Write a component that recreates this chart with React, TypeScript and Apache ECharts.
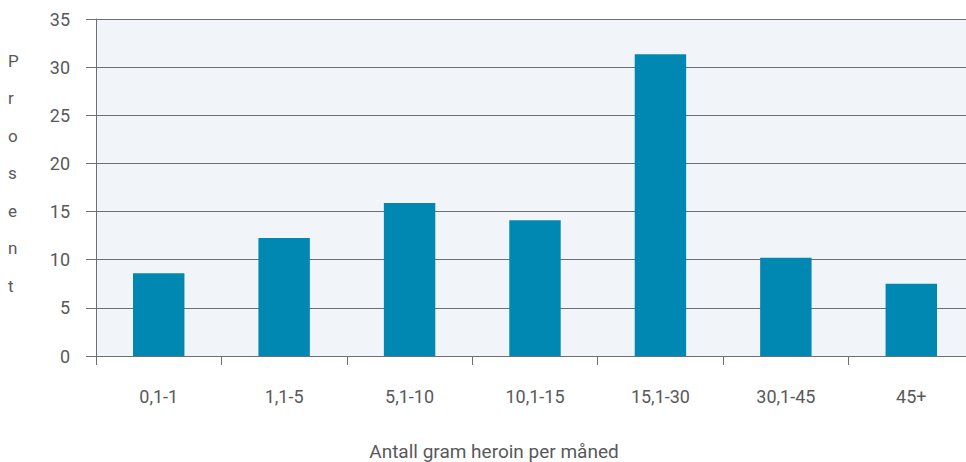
import React, { useEffect, useRef } from "react";
import * as echarts from "echarts";

const categories = ["0,1-1", "1,1-5", "5,1-10", "10,1-15", "15,1-30", "30,1-45", "45+"];
const values = [8.6, 12.25, 15.9, 14.1, 31.35, 10.2, 7.5];
const xTitle = "Antall gram heroin per måned";
const yTitle = "Prosent";

export default function App() {
  const ref = useRef<HTMLDivElement>(null);
  useEffect(() => {
    const chart = echarts.init(ref.current!, null, { renderer: "svg" });
    const axisColor = "#6d6e71";
    const textColor = "#58595b";
    const font = "Roboto";
    chart.setOption({
      animation: false,
      grid: {
        left: 96,
        right: 0,
        top: 19,
        bottom: 106,
        show: true,
        backgroundColor: "#f1f5f9",
        borderWidth: 0,
      },
      xAxis: {
        type: "category",
        data: categories,
        axisLine: { show: true, lineStyle: { color: axisColor, width: 1 } },
        axisTick: { show: true, alignWithLabel: false, length: 9, lineStyle: { color: axisColor } },
        axisLabel: { color: textColor, fontFamily: font, fontSize: 18, margin: 31 },
      },
      yAxis: {
        type: "value",
        min: 0,
        max: 35,
        interval: 5,
        axisLine: { show: true, lineStyle: { color: axisColor, width: 1 } },
        axisTick: { show: true, length: 10, lineStyle: { color: axisColor } },
        splitLine: { show: true, lineStyle: { color: axisColor, width: 1 } },
        axisLabel: { color: textColor, fontFamily: font, fontSize: 18, margin: 26 },
      },
      series: [
        {
          type: "bar",
          data: values,
          barWidth: "41%",
          itemStyle: { color: "#0088b2" },
        },
      ],
      graphic: [
        {
          type: "text",
          left: 8,
          top: 42,
          style: {
            text: yTitle.split("").join("\n"),
            fill: textColor,
            font: `17px ${font}`,
            lineHeight: 37.5,
            align: "left",
          },
        },
        {
          type: "text",
          x: 494,
          y: 461,
          style: {
            text: xTitle,
            fill: textColor,
            font: `19px ${font}`,
            align: "center",
            verticalAlign: "bottom",
          },
        },
      ],
    });
    return () => chart.dispose();
  }, []);
  return (
    <div style={{ position: "absolute", left: 0, top: 0, width: 966, height: 462, overflow: "hidden" }}>
      <div ref={ref} style={{ position: "absolute", left: 0, top: 0, width: 974, height: 462 }} />
    </div>
  );
}
